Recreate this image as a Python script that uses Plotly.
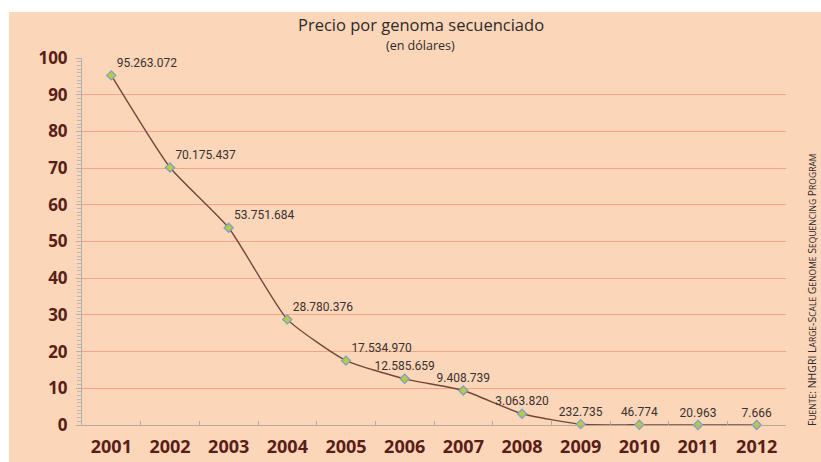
import plotly.graph_objects as go

years = ["2001", "2002", "2003", "2004", "2005", "2006", "2007", "2008", "2009", "2010", "2011", "2012"]
price_millions = [95.263072, 70.175437, 53.751684, 28.780376, 17.534970, 12.585659,
                  9.408739, 3.063820, 0.232735, 0.046774, 0.020963, 0.007666]
labels = ["95.263.072", "70.175.437", "53.751.684", "28.780.376", "17.534.970", "12.585.659",
          "9.408.739", "3.063.820", "232.735", "46.774", "20.963", "7.666"]
label_pos = ["top right", "top right", "top right", "top right", "top right", "top center",
             "top center", "top center", "top center", "top center", "top center", "top center"]
y_ticks = [0, 10, 20, 30, 40, 50, 60, 70, 80, 90, 100]

W, H = 821, 462
L, R, T, B = 82, 821 - 786, 58, 462 - 425
pw, ph = W - L - R, H - T - B

PEACH = "#fcd6b9"
GRID = "#f3a487"
TICKC = "#5a1e18"

fig = go.Figure()
fig.add_trace(go.Scatter(
    x=years, y=price_millions, mode="lines+markers+text",
    text=labels, textposition=label_pos,
    textfont=dict(family="Roboto", size=12, color="#3a3030"),
    line=dict(color="#74463a", width=1.4, shape="spline", smoothing=0.5),
    marker=dict(symbol="diamond", size=7, color="#b8cc3c",
                line=dict(color="#7aa2c8", width=1.3)),
    cliponaxis=False, showlegend=False,
))


def px2x(px):
    return (px - L) / pw


def py2y(py):
    return (H - B - py) / ph


shapes = [
    dict(type="rect", xref="paper", yref="paper", x0=px2x(-5), x1=px2x(830),
         y0=py2y(12), y1=py2y(-5), fillcolor="white", line=dict(width=0), layer="below"),
    dict(type="rect", xref="paper", yref="paper", x0=px2x(-5), x1=px2x(9),
         y0=py2y(470), y1=py2y(-5), fillcolor="white", line=dict(width=0), layer="below"),
]

sc = "font-size:8.5px"
source = (f"F<span style='{sc}'>UENTE</span>: NHGRI L<span style='{sc}'>ARGE</span>-S<span style='{sc}'>CALE</span> "
          f"G<span style='{sc}'>ENOME</span> S<span style='{sc}'>EQUENCING</span> P<span style='{sc}'>ROGRAM</span>")

annotations = [
    dict(text="Precio por genoma secuenciado", xref="paper", yref="paper",
         x=px2x(421), y=py2y(25), showarrow=False, xanchor="center", yanchor="middle",
         font=dict(family="Open Sans", size=16.5, color="#2e2a2a")),
    dict(text="(en dólares)", xref="paper", yref="paper",
         x=px2x(420), y=py2y(46), showarrow=False, xanchor="center", yanchor="middle",
         font=dict(family="Open Sans", size=12.5, color="#2e2a2a")),
    dict(text=source, xref="paper", yref="paper", textangle=-90,
         x=px2x(812), y=py2y(290), showarrow=False, xanchor="center", yanchor="middle",
         font=dict(family="Open Sans", size=10.5, color="#2e2a2a")),
]

fig.update_layout(
    width=W, height=H,
    margin=dict(l=L, r=R, t=T, b=B, pad=0),
    paper_bgcolor=PEACH, plot_bgcolor=PEACH,
    shapes=shapes, annotations=annotations,
    xaxis=dict(type="category", range=[-0.5, len(years) - 0.5], tickson="boundaries",
               ticks="inside", ticklen=4,
               tickcolor="#b8a898", showgrid=False, showline=True, linecolor="#b8a898",
               linewidth=1.2, tickfont=dict(family="Open Sans", size=18, color=TICKC, weight="bold"),
               ticklabelstandoff=5, fixedrange=True, automargin=False),
    yaxis=dict(range=[0, 100], tickvals=y_ticks, ticks="outside", ticklen=5,
               tickcolor="#b0b0b0", showgrid=True, gridcolor=GRID, gridwidth=1,
               showline=True, linecolor="#b0b0b0", linewidth=1, zeroline=False,
               minor=dict(dtick=1, ticks="outside", ticklen=4, tickcolor="#b8b8b8", showgrid=False),
               tickfont=dict(family="Open Sans", size=17, color=TICKC, weight="bold"),
               ticklabelstandoff=5, fixedrange=True, automargin=False),
)

fig.write_html(
    "out.html",
    config={"displayModeBar": False},
    post_script="document.documentElement.style.margin='0';document.body.style.margin='0';"
                "document.body.style.overflow='hidden';document.documentElement.style.overflow='hidden';",
)
